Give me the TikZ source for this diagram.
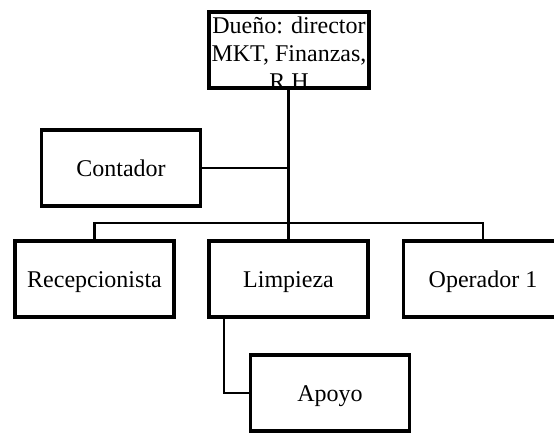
\documentclass[tikz,border=0pt]{standalone}
\usepackage{fontspec}
\setmainfont{Liberation Serif}

\begin{document}
\begin{tikzpicture}[x=1pt,y=-1pt,
  puesto/.style={draw,line width=3.5pt,minimum width=159pt,minimum height=76pt,
    inner sep=0pt,text height=17pt,text depth=0pt,
    font=\fontsize{24}{27.6}\selectfont},
  linea/.style={line width=2.5pt}]
\path[use as bounding box,clip] (0,0) rectangle (554,435);
% owner on top, then the staff
\node[puesto,text width=160pt,align=flush center,text height=22pt,text depth=54pt]
  (duenio) at (289,50) {Dueño: director\\ MKT, Finanzas,\\ R.H};
\node[puesto] (contador) at (121,168) {Contador};
\node[puesto] (recep) at (94.5,279) {Recepcionista};
\node[puesto] (limpieza) at (288.5,279) {Limpieza};
\node[puesto] (operador) at (483,279) {Operador 1};
\node[puesto] (apoyo) at (330,393) {Apoyo};
\coordinate (rama) at (limpieza.north |- 0,223);
% lines
\draw[linea,line width=3pt] (duenio.south -| limpieza) -- (limpieza.north);
\draw[linea] (contador) -- (contador -| limpieza);
\draw[linea] (recep.north) |- (rama) -| (operador.north);
\draw[linea] ([xshift=-64.5pt]limpieza.south) |- (apoyo);
\end{tikzpicture}
\end{document}
